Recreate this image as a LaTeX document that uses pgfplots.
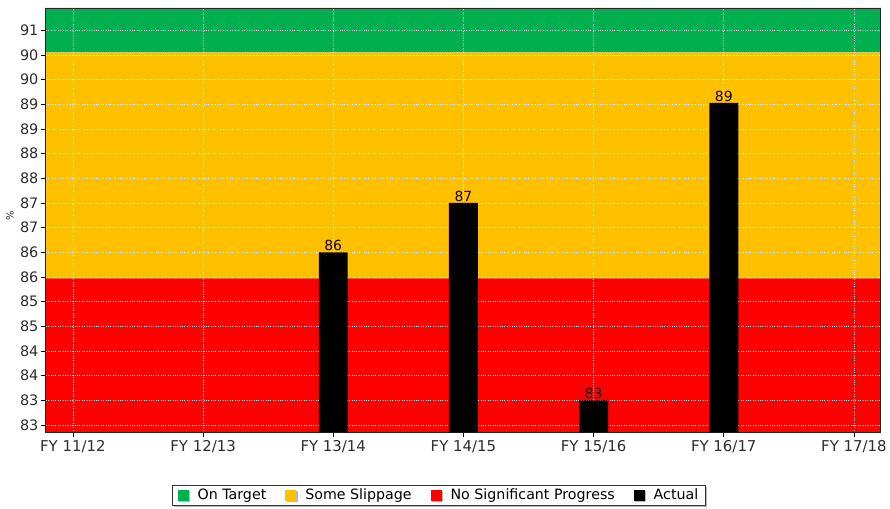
\documentclass[border=0pt]{standalone}
\usepackage{pgfplots}
\pgfplotsset{compat=1.18}
\usepackage{fontspec}
\setmainfont{DejaVu Sans}
\usetikzlibrary{shadows}
\definecolor{ontarget}{RGB}{0,176,80}
\definecolor{slip}{RGB}{255,192,0}
\definecolor{nsp}{RGB}{255,0,0}
\definecolor{txt}{RGB}{45,45,45}
\pgfplotsset{sq legend/.style={legend image code/.code={\fill[##1] (0bp,-5.5bp) rectangle (11bp,5.5bp); \path (18bp,0bp);}}}
\begin{document}
\begin{tikzpicture}
\begin{axis}[
  set layers,
  at={(0,0)}, anchor=south west,
  scale only axis, width=836bp, height=425bp,
  xmin=-0.207, xmax=6.207, ymin=82.4, ymax=91,
  xtick={0,1,2,3,4,5,6},
  xticklabels={FY 11/12, FY 12/13, FY 13/14, FY 14/15, FY 15/16, FY 16/17, FY 17/18},
  ytick={82.55,83.05,83.55,84.05,84.55,85.05,85.55,86.05,86.55,87.05,87.55,88.05,88.55,89.05,89.55,90.05,90.55},
  yticklabels={83,83,84,84,85,85,86,86,87,87,88,88,89,89,90,90,91},
  tick align=outside, tick pos=left,
  major tick length=5bp,
  grid=major, major grid style={white, dotted, line width=0.7pt},
  axis line style={black!85, line width=0.9pt},
  tick style={black, line width=0.6pt},
  ticklabel style={font=\fontsize{14.5}{14.5}\selectfont, text=txt},
  xticklabel style={font=\fontsize{15}{15}\selectfont, text height=11bp, text depth=3bp},
  yticklabel style={xshift=1bp},
  /pgf/number format/assume math mode=true,
  ylabel={\%}, ylabel style={at={(axis description cs:-0.043,0.51)}, anchor=center, font=\fontsize{10}{10}\selectfont, text=txt},
  legend columns=4,
  legend style={at={(0.4707,-0.148)}, anchor=center, draw=black!80, line width=0.7pt, fill=white,
    font=\fontsize{14.3}{15}\selectfont, text=black,
    drop shadow={shadow xshift=1.5bp, shadow yshift=-1.5bp, fill=black!55},
    /tikz/every even column/.append style={column sep=17bp},
    inner ysep=2bp, inner xsep=5bp},
]
\addplot[on layer=axis background, fill=ontarget, draw=none, sq legend] coordinates {(-0.207,90.1) (6.207,90.1) (6.207,91) (-0.207,91) (-0.207,90.1)};
\addlegendentry{On Target}
\addplot[on layer=axis background, fill=slip, draw=none, sq legend] coordinates {(-0.207,85.52) (6.207,85.52) (6.207,90.1) (-0.207,90.1) (-0.207,85.52)};
\addlegendentry{Some Slippage}
\addplot[on layer=axis background, fill=nsp, draw=none, sq legend] coordinates {(-0.207,82.4) (6.207,82.4) (6.207,85.52) (-0.207,85.52) (-0.207,82.4)};
\addlegendentry{No Significant Progress}
\addplot[ybar, bar width=29bp, fill=black, draw=none, sq legend,
  point meta=explicit symbolic,
  nodes near coords,
  every node near coord/.append style={font=\fontsize{14}{14}\selectfont, text=black!85!red!60!black, inner sep=1bp}]
  coordinates {(2,86.05)[86] (3,87.05)[87] (4,83.05)[83] (5,89.08)[89]};
\addlegendentry{Actual}
\end{axis}
\path (-46bp,-76bp) rectangle (844bp,433bp);
\end{tikzpicture}
\end{document}
